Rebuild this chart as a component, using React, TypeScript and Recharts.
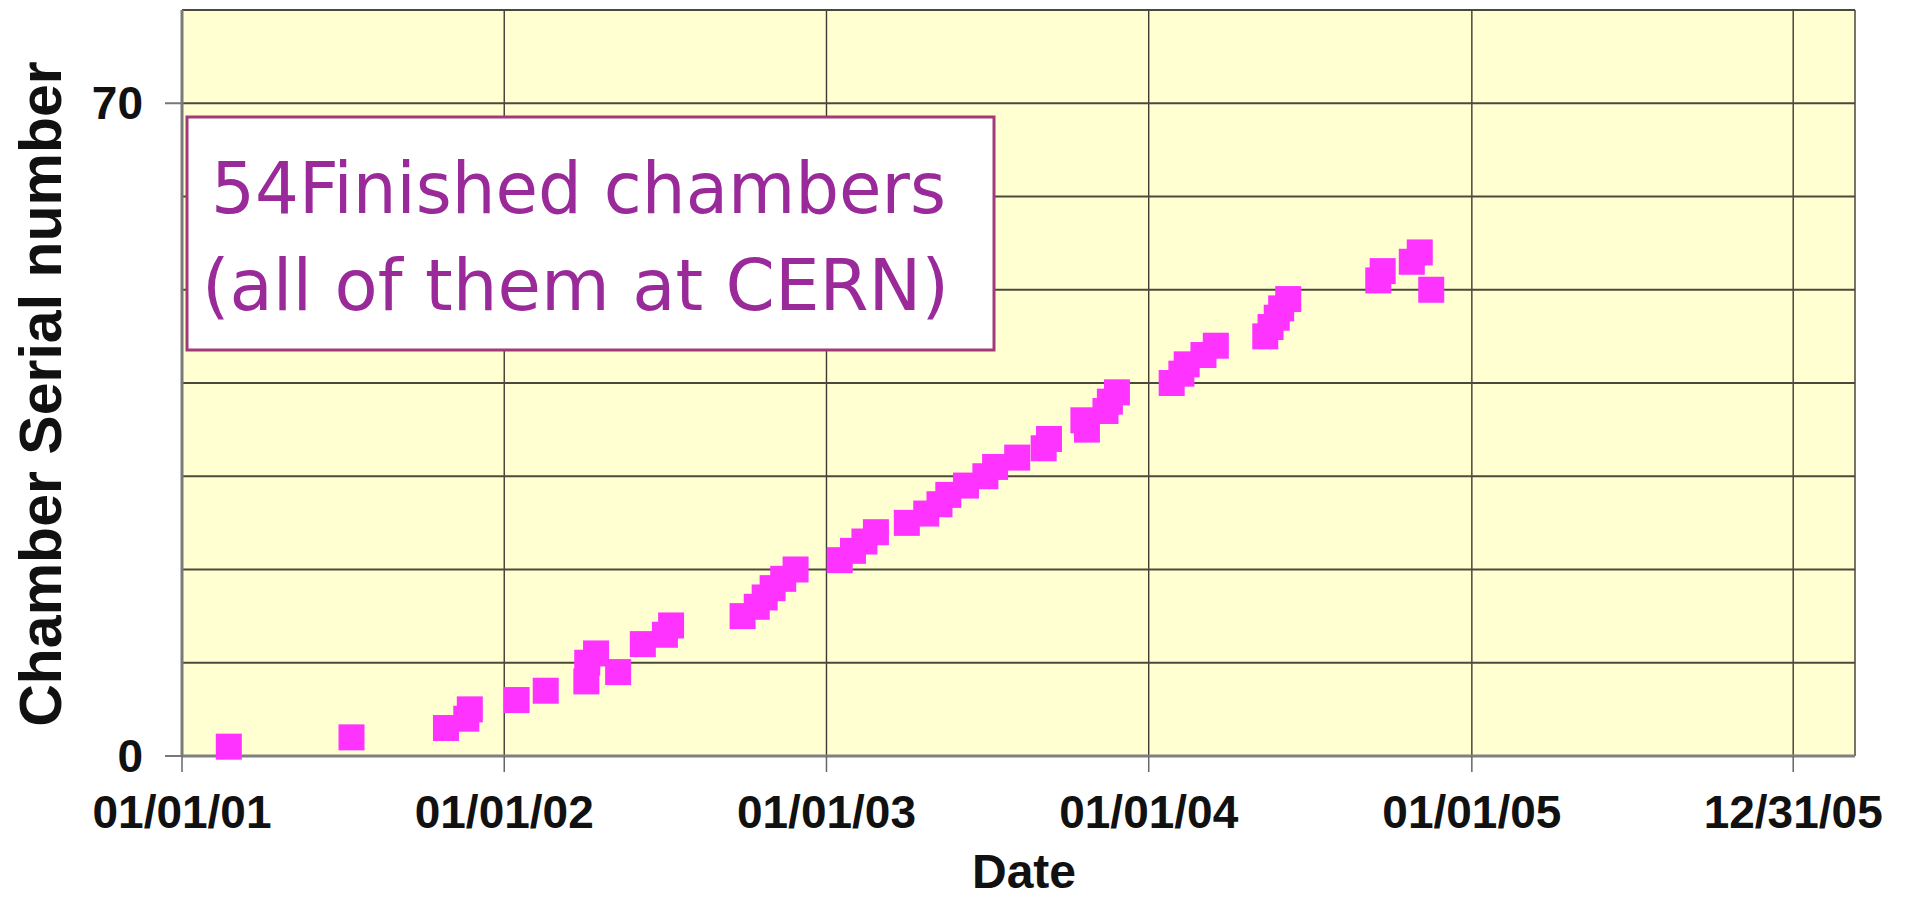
import React from 'react';
import { ScatterChart, Scatter, XAxis, YAxis, CartesianGrid } from 'recharts';

// Chamber serial numbers and their completion dates
const serialNumbers = [
  1, 2, 3, 4, 5, 6, 7, 8, 9, 10,
  11, 12, 13, 14, 15, 16, 17, 18, 19, 20,
  21, 22, 23, 24, 25, 26, 27, 28, 29, 30,
  31, 32, 33, 34, 35, 36, 37, 38, 39, 40,
  41, 42, 43, 44, 45, 46, 47, 48, 49, 50,
  51, 52, 53, 54,
];
const finishDates = [
  '2001-02-23', '2001-07-12', '2001-10-27', '2001-11-19', '2001-11-23', '2002-01-15', '2002-02-17', '2002-04-04', '2002-05-10', '2002-04-05',
  '2002-04-15', '2002-06-07', '2002-07-02', '2002-07-09', '2002-09-28', '2002-10-14', '2002-10-23', '2002-11-01', '2002-11-13', '2002-11-27',
  '2003-01-16', '2003-01-31', '2003-02-13', '2003-02-26', '2003-04-02', '2003-04-24', '2003-05-09', '2003-05-19', '2003-06-08', '2003-06-30',
  '2003-07-11', '2003-08-05', '2003-09-04', '2003-09-10', '2003-10-23', '2003-10-19', '2003-11-13', '2003-11-18', '2003-11-26', '2004-01-27',
  '2004-02-07', '2004-02-13', '2004-03-03', '2004-03-17', '2004-05-12', '2004-05-18', '2004-05-25', '2004-05-30', '2004-06-07', '2004-11-16',
  '2004-09-17', '2004-09-22', '2004-10-25', '2004-11-03',
];

const axisStart = '2001-01-01';
const axisEnd = '2006-03-11';
const xTickDates = ['2001-01-01', '2002-01-01', '2003-01-01', '2004-01-01', '2005-01-01', '2005-12-31'];
const xTickLabels = ['01/01/01', '01/01/02', '01/01/03', '01/01/04', '01/01/05', '12/31/05'];
const yTicks = [0, 10, 20, 30, 40, 50, 60, 70, 80];
const yLabelledTicks = [0, 70];

const DAY = 86400000;
const dayIndex = (d: string) => Math.round((Date.parse(d) - Date.parse(axisStart)) / DAY);

const data = serialNumbers.map((s, i) => ({ x: dayIndex(finishDates[i]), y: s }));
const xTicks = xTickDates.map(dayIndex);
const xLabelFor = (v: number) => {
  const i = xTicks.indexOf(v);
  return i >= 0 ? xTickLabels[i] : '';
};

const FONT = 'Liberation Sans, Arial, Helvetica, sans-serif';

const XTick = (props: any) => {
  const { x, y, payload } = props;
  return (
    <g>
      <line x1={x} x2={x} y1={y} y2={y + 16} stroke="#666" strokeWidth={1.5} />
      <text x={x} y={y + 72} textAnchor="middle" fontFamily={FONT} fontWeight="bold" fontSize={46} fill="#111">
        {xLabelFor(payload.value)}
      </text>
    </g>
  );
};

const YTick = (props: any) => {
  const { x, y, payload } = props;
  if (!yLabelledTicks.includes(payload.value)) return <g />;
  return (
    <g>
      <line x1={x - 17} x2={x} y1={y} y2={y} stroke="#777" strokeWidth={2} />
      <text x={x - 39} y={y + 16} textAnchor="end" fontFamily={FONT} fontWeight="bold" fontSize={46} fill="#111">
        {payload.value}
      </text>
    </g>
  );
};

const SquareMarker = (props: any) => {
  const { cx, cy } = props;
  return <rect x={cx - 13} y={cy - 13} width={26} height={26} fill="#FF33FF" />;
};

export default function App() {
  return (
    <div style={{ position: 'absolute', left: 0, top: 0, width: 1914, height: 897, background: '#fff' }}>
      <ScatterChart width={1914} height={897} margin={{ top: 10, right: 59, bottom: 0, left: 0 }}>
        <CartesianGrid fill="#FFFFD2" horizontal={false} vertical={true} stroke="#3a3a32" strokeWidth={1.4} />
        <CartesianGrid horizontal={true} vertical={false} stroke="#4a4a3c" strokeWidth={2.2} />
        <XAxis
          type="number"
          dataKey="x"
          domain={[0, dayIndex(axisEnd)]}
          ticks={xTicks}
          interval={0}
          height={141}
          tickSize={0}
          tickMargin={0}
          tickLine={false}
          tick={<XTick />}
          axisLine={{ stroke: '#808080', strokeWidth: 3 }}
          allowDataOverflow
        />
        <XAxis
          xAxisId="top"
          orientation="top"
          type="number"
          dataKey="x"
          domain={[0, dayIndex(axisEnd)]}
          height={0}
          tick={false}
          tickLine={false}
          axisLine={{ stroke: '#8a8a8a', strokeWidth: 3 }}
        />
        <YAxis
          type="number"
          dataKey="y"
          domain={[0, 80]}
          ticks={yTicks}
          interval={0}
          width={182}
          tickSize={0}
          tickMargin={0}
          tickLine={false}
          tick={<YTick />}
          axisLine={{ stroke: '#7a7a7a', strokeWidth: 3 }}
        />
        <YAxis
          yAxisId="right"
          orientation="right"
          type="number"
          domain={[0, 80]}
          width={0}
          tick={false}
          tickLine={false}
          axisLine={{ stroke: '#b0b0a8', strokeWidth: 2 }}
        />
        <Scatter data={data} shape={<SquareMarker />} isAnimationActive={false} />
      </ScatterChart>
      <svg width={1914} height={897} style={{ position: 'absolute', left: 0, top: 0, pointerEvents: 'none' }}>
        <text
          transform="translate(61,394) rotate(-90)"
          textAnchor="middle"
          fontFamily={FONT}
          fontWeight="bold"
          fontSize={59}
          fill="#111"
        >
          Chamber Serial number
        </text>
        <text x={972} y={888} fontFamily={FONT} fontWeight="bold" fontSize={48} fill="#111">
          Date
        </text>
        <rect x={187} y={117} width={807} height={233} fill="#ffffff" stroke="#A23A78" strokeWidth={3} />
        <text
          x={211}
          y={213}
          fontFamily="'Comic Sans MS', 'DejaVu Sans', sans-serif"
          fontSize={72}
          fill="#9A2A9A"
          textLength={735}
          lengthAdjust="spacingAndGlyphs"
        >
          54Finished chambers
        </text>
        <text
          x={202}
          y={310}
          fontFamily="'Comic Sans MS', 'DejaVu Sans', sans-serif"
          fontSize={72}
          fill="#9A2A9A"
          textLength={747}
          lengthAdjust="spacingAndGlyphs"
        >
          (all of them at CERN)
        </text>
      </svg>
    </div>
  );
}
